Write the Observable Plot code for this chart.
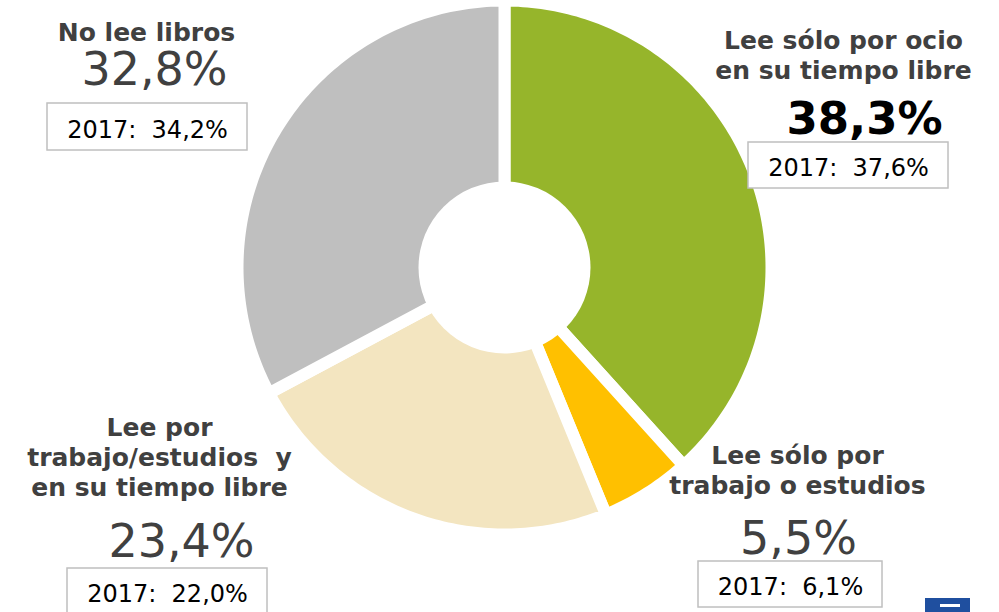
<!DOCTYPE html>
<html><head><meta charset="utf-8">
<script src="https://cdn.jsdelivr.net/npm/d3@7"></script>
<script src="https://cdn.jsdelivr.net/npm/@observablehq/plot@0.6"></script>
<style>html,body{margin:0;padding:0;background:#fff;overflow:hidden}svg{display:block}</style>
</head><body><div id="chart"></div>
<script>
// ---- data ----
const categories = [
  "Lee sólo por ocio en su tiempo libre",
  "Lee sólo por trabajo o estudios",
  "Lee por trabajo/estudios y en su tiempo libre",
  "No lee libros"
];
const labelText = [
  "Lee sólo por ocio\nen su tiempo libre",
  "Lee sólo por\ntrabajo o estudios",
  "Lee por\ntrabajo/estudios  y\nen su tiempo libre",
  "No lee libros"
];
const share2018 = [38.3, 5.5, 23.4, 32.8];
const share2017 = [37.6, 6.1, 22.0, 34.2];
const sliceColors = ["#96b52b", "#ffc000", "#f3e5c0", "#bfbfbf"];

// ---- layout (positions, not data) ----
const W = 999, H = 612;
const cx = 504, cy = 267, R = 267, hole = 86, gap = 12;
const labelPos = [{x: 843, y: 78}, {x: 797, y: 493}, {x: 159, y: 495}, {x: 146, y: 40}];
const pctPos = [{x: 864, y: 133}, {x: 798, y: 553}, {x: 181, y: 556}, {x: 154, y: 84}];
const boxPos = [
  {x1: 748, x2: 948, y1: 142, y2: 188},
  {x1: 698, x2: 882, y1: 561, y2: 607},
  {x1: 67, x2: 267, y1: 568, y2: 614},
  {x1: 47, x2: 247, y1: 103, y2: 150}
];

const fmt = v => d3.format(".1f")(v).replace(".", ",") + "%";

const rows = categories.map((c, i) => ({
  cat: c, v: share2018[i], v17: share2017[i], color: sliceColors[i],
  label: labelText[i], pct: fmt(share2018[i]), prev: "2017:  " + fmt(share2017[i]),
  lx: labelPos[i].x, ly: labelPos[i].y, px: pctPos[i].x, py: pctPos[i].y,
  ...boxPos[i], bx: (boxPos[i].x1 + boxPos[i].x2) / 2, by: boxPos[i].y2 - 13,
  bold: i === 0
}));

const arcs = d3.pie().sort(null).value(d => d.v)(rows);
const polys = [];
arcs.forEach(a => {
  const c = a.data;
  polys.push({cat: c.cat, color: c.color, x: cx, y: cy});
  const n = Math.max(4, Math.ceil((a.endAngle - a.startAngle) * 180 / Math.PI));
  for (let k = 0; k <= n; k++) {
    const t = a.startAngle + (a.endAngle - a.startAngle) * k / n;
    polys.push({cat: c.cat, color: c.color, x: cx + R * Math.sin(t), y: cy - R * Math.cos(t)});
  }
  polys.push({cat: c.cat, color: c.color, x: cx, y: cy});
});

const plot = Plot.plot({
  width: W, height: H, margin: 0,
  x: {domain: [0, W], range: [0, W], axis: null},
  y: {domain: [0, H], range: [0, H], axis: null},
  style: {fontFamily: "DejaVu Sans, Verdana, sans-serif", background: "#fff"},
  marks: [
    Plot.line(polys, {x: "x", y: "y", z: "cat", fill: "color", stroke: "#fff", strokeWidth: gap, strokeLinejoin: "round"}),
    Plot.dot([{x: cx, y: cy}], {x: "x", y: "y", r: hole, fill: "#fff", stroke: null}),
    Plot.text(rows, {x: "lx", y: "ly", text: "label", fontSize: 25, fontWeight: "bold", fill: "#404040", textAnchor: "middle", lineAnchor: "bottom", lineHeight: 1.2}),
    Plot.text(rows.filter(d => !d.bold), {x: "px", y: "py", text: "pct", fontSize: 46, fill: "#404040", textAnchor: "middle", lineAnchor: "bottom", letterSpacing: 2}),
    Plot.text(rows.filter(d => d.bold), {x: "px", y: "py", text: "pct", fontSize: 45, fontWeight: "bold", fill: "#000", textAnchor: "middle", lineAnchor: "bottom", letterSpacing: 2}),
    Plot.rect(rows, {x1: "x1", x2: "x2", y1: "y1", y2: "y2", fill: "#fff", stroke: "#bfbfbf", strokeWidth: 1.5}),
    Plot.text(rows, {x: "bx", y: "by", text: "prev", fontSize: 24, fill: "#000", textAnchor: "middle", lineAnchor: "bottom"}),
    Plot.rect([{x1: 925, x2: 970, y1: 598, y2: 612}], {x1: "x1", x2: "x2", y1: "y1", y2: "y2", fill: "#1f4f9f"}),
    Plot.rect([{x1: 940, x2: 960, y1: 604, y2: 607}], {x1: "x1", x2: "x2", y1: "y1", y2: "y2", fill: "#fff"})
  ]
});
document.getElementById("chart").appendChild(plot);
</script>
</body></html>
